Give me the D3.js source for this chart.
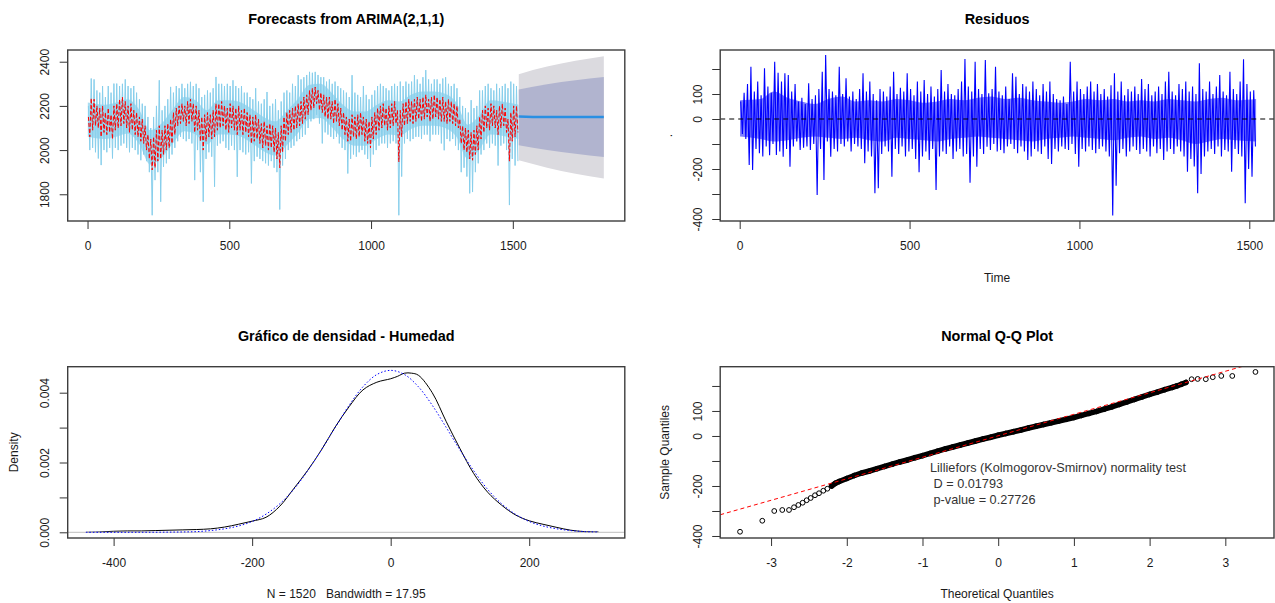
<!DOCTYPE html>
<html><head><meta charset="utf-8">
<script src="https://cdn.jsdelivr.net/npm/d3@7/dist/d3.min.js"></script>
<style>
body{margin:0;background:#fff}
svg text{font-family:"Liberation Sans",Arial,sans-serif}
</style>
</head><body>
<svg id="c" width="1275" height="603"></svg>
<script>
// ---------------- DATA ----------------
// Series binned in blocks of 10 time steps: high / low value seen in each block
const binStart = 1, binWidth = 10;
const actHi = [2200,2324,2320,2270,2260,2290,2240,2290,2260,2301,
 2301,2290,2300,2320,2290,2280,2290,2260,2230,2210,
 2200,2150,2100,2150,2200,2316,2180,2200,2230,2286,
 2260,2290,2280,2300,2280,2300,2309,2290,2300,2280,
 2240,2250,2270,2260,2280,2331,2300,2300,2290,2300,
 2290,2316,2290,2280,2290,2260,2260,2240,2230,2280,
 2220,2210,2230,2263,2200,2210,2230,2180,2220,2260,
 2270,2260,2300,2290,2339,2320,2330,2340,2354,2350,
 2354,2340,2330,2330,2310,2320,2300,2310,2290,2280,
 2270,2260,2240,2339,2260,2250,2240,2290,2250,2230,
 2250,2270,2290,2300,2290,2280,2270,2290,2300,2290,
 2310,2290,2310,2300,2310,2339,2320,2300,2330,2362,
 2320,2300,2320,2320,2300,2324,2330,2300,2290,2300,
 2280,2240,2200,2190,2170,2226,2190,2200,2270,2270,
 2290,2300,2280,2270,2300,2280,2290,2300,2280,2310,
 2300,2290];
const actLo = [2000,2010,1990,1962,1932,2000,1990,2010,1962,2010,
 2000,2020,2030,2010,1990,2010,2000,1980,1954,1980,
 1950,1900,1705,1864,1900,1766,1924,1940,1960,1980,
 2010,2040,2060,2050,2040,2050,2030,1864,2000,1900,
 1766,1960,1990,1970,1834,2020,2030,2040,2010,2000,
 2020,2000,1879,2000,1990,1980,1990,1849,1950,1970,
 1960,1950,1940,1930,1950,1920,1900,1731,1930,1960,
 2000,2010,2020,2040,2050,2060,2070,2100,2130,2140,
 2160,2120,2030,2080,2070,2060,2050,2060,2030,2010,
 2000,1894,1960,1980,1970,1990,2000,1980,1960,1924,
 1980,2000,2020,2030,2030,2010,2030,2040,2030,1705,
 1880,2030,2050,2040,2050,2060,2060,2050,2070,2070,
 2040,2070,2070,2070,2030,1999,2050,2040,2050,2020,
 2000,1900,1920,1880,1804,1810,1900,1940,1980,2000,
 2030,2010,2030,2020,1930,2020,2030,2000,1751,1960,
 1930,1950];
// dense core of the observed series, blocks of 40 time steps
const bodyWidth = 40;
const actBodyHi = [2215,2205,2215,2230,2185,2090,2120,2185,2240,2225,2180,2225,2225,2215,2185,2150,2130,2175,2230,2295,2300,2260,2205,2175,2175,2205,2225,2220,2250,2265,2265,2255,2215,2115,2155,2225,2220,2205];
const actBodyLo = [2060,2050,2060,2075,2030,1935,1965,2030,2085,2070,2025,2070,2070,2060,2030,1995,1975,2020,2075,2140,2145,2105,2050,2020,2020,2050,2070,2065,2095,2110,2110,2100,2060,1960,2000,2070,2065,2050];
const fitHi = [2150,2235,2230,2200,2190,2200,2170,2190,2160,2200,
 2210,2230,2240,2220,2200,2210,2180,2170,2150,2140,
 2110,2070,2050,2060,2090,2110,2090,2110,2120,2140,
 2170,2190,2200,2210,2200,2220,2230,2210,2200,2180,
 2150,2160,2170,2160,2180,2210,2210,2220,2200,2190,
 2210,2200,2190,2200,2180,2190,2170,2160,2150,2160,
 2140,2120,2130,2110,2120,2110,2100,2080,2110,2150,
 2170,2180,2190,2200,2210,2220,2240,2250,2270,2280,
 2285,2270,2260,2250,2240,2240,2220,2230,2210,2190,
 2170,2150,2140,2160,2150,2160,2170,2150,2140,2130,
 2150,2170,2190,2200,2210,2190,2200,2210,2220,2180,
 2180,2210,2220,2230,2220,2230,2240,2230,2240,2250,
 2230,2240,2250,2240,2230,2240,2220,2230,2220,2210,
 2200,2140,2110,2100,2090,2080,2090,2110,2150,2180,
 2200,2190,2210,2200,2180,2200,2210,2190,2140,2170,
 2200,2200];
const fitLo = [2060,2090,2110,2100,2060,2080,2070,2080,2050,2090,
 2100,2110,2120,2100,2080,2090,2070,2060,2040,2030,
 2000,1960,1910,1920,1950,1960,1980,2000,2010,2030,
 2070,2110,2120,2130,2110,2120,2130,2080,2090,2040,
 2000,2040,2060,2050,2060,2090,2100,2110,2090,2080,
 2100,2090,2070,2090,2070,2080,2060,2030,2040,2050,
 2030,2010,2020,2000,2010,1990,1960,1920,1990,2040,
 2070,2080,2090,2100,2110,2120,2140,2160,2180,2190,
 2210,2180,2170,2150,2140,2140,2120,2130,2110,2090,
 2070,2040,2040,2060,2050,2060,2070,2040,2030,2010,
 2050,2070,2090,2100,2110,2090,2100,2110,2120,1947,
 2060,2110,2120,2130,2120,2130,2140,2130,2140,2150,
 2130,2140,2150,2140,2130,2130,2120,2130,2120,2110,
 2100,2030,2000,1990,1960,1954,1980,2000,2050,2080,
 2100,2090,2110,2100,2070,2100,2110,2080,1950,2040,
 2060,2080];
const resHi = [70,105,140,209,110,150,95,203,130,105,
 229,185,150,183,176,110,140,70,85,60,
 143,80,95,120,189,256,120,110,95,209,
 100,163,90,110,80,120,183,110,150,100,
 75,120,110,90,130,189,100,125,110,183,
 120,95,150,110,156,100,130,90,120,196,
 110,140,100,95,120,150,240,130,110,229,
 120,100,236,103,120,209,110,95,130,80,
 183,169,100,140,130,110,150,120,95,140,
 110,150,100,80,75,90,60,229,110,150,
 120,100,130,150,110,140,100,120,90,135,
 183,110,150,95,120,110,130,100,160,120,
 140,95,110,130,100,150,189,110,95,140,
 120,150,110,130,100,223,120,110,150,100,
 130,176,110,95,189,120,100,150,239,140,
 110,115];
const resLo = [-60,-80,-184,-204,-120,-137,-150,-110,-145,-100,
 -144,-130,-151,-120,-191,-110,-90,-124,-115,-110,
 -124,-100,-304,-120,-244,-90,-151,-120,-130,-100,
 -110,-90,-130,-100,-110,-120,-177,-130,-150,-297,
 -277,-140,-110,-130,-231,-120,-140,-110,-150,-130,
 -120,-160,-213,-150,-130,-164,-120,-284,-150,-130,
 -140,-110,-160,-130,-120,-150,-140,-255,-150,-191,
 -120,-140,-111,-124,-100,-130,-124,-137,-110,-100,
 -120,-137,-110,-130,-164,-150,-120,-130,-140,-110,
 -160,-180,-120,-130,-110,-120,-124,-100,-140,-191,
 -120,-130,-110,-124,-137,-120,-110,-130,-150,-386,
 -267,-137,-120,-150,-130,-110,-124,-140,-120,-130,
 -150,-110,-137,-120,-164,-130,-120,-140,-110,-130,
 -150,-211,-160,-190,-297,-220,-150,-130,-120,-140,
 -110,-150,-124,-130,-211,-120,-140,-150,-337,-200,
 -231,-110];
// dense core of the residuals, blocks of 40 time steps
const resBodyHi = [75,80,110,85,70,60,80,90,70,75,70,80,75,65,70,80,75,85,90,80,85,75,70,65,70,80,75,80,70,75,70,80,75,70,80,85,75,80];
const resBodyLo = [-70,-80,-90,-85,-75,-70,-75,-80,-75,-85,-90,-75,-80,-85,-90,-80,-75,-70,-75,-80,-85,-90,-80,-75,-70,-75,-80,-85,-75,-70,-80,-75,-85,-100,-90,-80,-85,-90];
// Forecast (time, mean, 80% and 95% limits)
const fcTime = [1521,1571,1621,1671,1721,1771,1821];
const fcMean = [2152,2150,2150,2150,2150,2150,2150];
const fcLo80 = [2022,2011,2000,1991,1983,1976,1969];
const fcHi80 = [2274,2287,2298,2308,2316,2324,2331];
const fcLo95 = [1954,1937,1920,1905,1893,1881,1871];
const fcHi95 = [2343,2362,2378,2392,2404,2415,2425];
// Density of residuals (black) and fitted normal (blue dotted)
const densX = [-440,-420,-400,-380,-360,-340,-320,-300,-280,-260,-240,-220,-200,-180,-160,-140,-120,-100,-80,-60,-40,-20,0,10,20,30,40,60,80,100,120,140,160,180,200,220,240,260,280,300];
const densY = [0,0.00001,0.00003,0.00004,0.00004,0.00005,0.00006,0.00007,0.00008,0.00010,0.00015,0.00023,0.00032,0.00043,0.00075,0.00125,0.00177,0.00236,0.00302,0.00360,0.00408,0.00430,0.00440,0.00447,0.00456,0.00456,0.00450,0.00400,0.00318,0.00240,0.00168,0.00115,0.00078,0.00050,0.00033,0.00023,0.00014,0.00006,0.00002,0.00001];
const normX = [-440,-420,-400,-380,-360,-340,-320,-300,-280,-260,-240,-220,-200,-180,-160,-140,-120,-100,-80,-60,-40,-20,0,20,40,60,80,100,120,140,160,180,200,220,240,260,280,300];
const normY = [0,0,0,0,0.000001,0.000002,0.000005,0.00001,0.00002,0.00005,0.00010,0.00018,0.00031,0.00052,0.00082,0.00123,0.00176,0.00236,0.00301,0.00364,0.00417,0.00452,0.00464,0.00452,0.00417,0.00364,0.00301,0.00236,0.00176,0.00123,0.00082,0.00052,0.00031,0.00018,0.00010,0.00005,0.00002,0.00001];
// Normal Q-Q
const qqTheo = [-3.41,-3.116,-2.958,-2.852,-2.763,-2.697,-2.64,-2.583,-2.53,-2.477,-2.42,-2.367,-2.31,-2.257,-2.2,-2.15,-2.1,-2.0,-1.9,-1.8,-1.7,-1.6,-1.5,-1.4,-1.3,-1.2,-1.1,-1.0,-0.9,-0.8,-0.7,-0.6,-0.5,-0.4,-0.3,-0.2,-0.1,0,0.1,0.2,0.3,0.4,0.5,0.6,0.7,0.8,0.9,1.0,1.1,1.2,1.3,1.4,1.5,1.6,1.7,1.8,1.9,2.0,2.1,2.2,2.3,2.36,2.42,2.48,2.555,2.635,2.742,2.834,2.947,3.092,3.398];
const qqSample = [-383,-339,-300,-296,-296,-285,-276,-267,-257,-248,-237,-229,-219,-211,-200,-189,-182,-170,-158,-148,-140,-131,-122,-113,-104,-96,-87,-79,-70,-61,-52,-44,-36,-28,-20,-12,-5,3,10,17,24,32,39,46,53,60,67,74,82,90,98,107,116,126,136,146,156,166,175,185,194,200,207,214,227,228,227,235,240,240,256];
const qqLineTheo = [-3.672,3.643];
const qqLineSample = [-315,314];
const qqNote = ["Lilliefors (Kolmogorov-Smirnov) normality test"," D = 0.01793"," p-value = 0.27726"];
// Tick values and labels
const tsXTicks = [0,500,1000,1500];
const fcYTicks = [1800,2000,2200,2400];
const resYTicks = [-400,-300,-200,-100,0,100,200];
const resYLabels = [-400,-200,0,100];
const densXTicks = [-400,-200,0,200];
const densYTicks = [0,0.001,0.002,0.003,0.004];
const densYLabels = [0,0.002,0.004];
const qqXTicks = [-3,-2,-1,0,1,2,3];
const titles = ["Forecasts from ARIMA(2,1,1)","Residuos","Gr\u00e1fico de densidad - Humedad","Normal Q-Q Plot"];

// ---------------- DRAWING ----------------
const svg = d3.select("#c");
const FONT = '"Liberation Sans", Arial, sans-serif';
let clipId = 0;

function frame(xs, ys, xTicks, yTicks, yLabelOK, yFmt) {
  const [x0, x1] = xs.range(), [yb, yt] = ys.range();
  const ax = svg.append("g").attr("transform", `translate(0,${yb})`)
    .call(d3.axisBottom(xs).tickValues(xTicks).tickFormat(d => String(d)).tickSize(8).tickPadding(12.5));
  ax.select(".domain").remove();
  ax.attr("font-size", 12).attr("font-family", FONT);
  ax.selectAll("line").attr("stroke", "#333");
  ax.selectAll("text").attr("fill", "#1a1a1a");
  const ay = svg.append("g").attr("transform", `translate(${x0},0)`)
    .call(d3.axisLeft(ys).tickValues(yTicks).tickSize(8)
      .tickFormat(d => yLabelOK(d) ? yFmt(d) : ""));
  ay.select(".domain").remove();
  ay.attr("font-size", 12).attr("font-family", FONT);
  ay.selectAll("line").attr("stroke", "#333");
  ay.selectAll("text").attr("fill", "#1a1a1a").attr("transform", "rotate(-90)")
    .attr("x", 0).attr("y", -18.5).attr("dy", 0).attr("text-anchor", "middle");
  const id = "clip" + (clipId++);
  svg.append("clipPath").attr("id", id).append("rect")
    .attr("x", x0).attr("y", yt).attr("width", x1 - x0).attr("height", yb - yt);
  return id;
}
function box(xs, ys) {
  const [x0, x1] = xs.range(), [yb, yt] = ys.range();
  svg.append("rect").attr("x", x0).attr("y", yt).attr("width", x1 - x0).attr("height", yb - yt)
    .attr("fill", "none").attr("stroke", "#3d3d3d").attr("stroke-width", 1.4);
}
function title(txt, xs, y) {
  const [x0, x1] = xs.range();
  svg.append("text").attr("x", (x0 + x1) / 2).attr("y", y).attr("text-anchor", "middle")
    .attr("font-weight", "bold").attr("font-size", 14.4).attr("fill", "#000").text(txt);
}
function xlab(txt, xs, y) {
  const [x0, x1] = xs.range();
  svg.append("text").attr("x", (x0 + x1) / 2).attr("y", y).attr("text-anchor", "middle")
    .attr("font-size", 12).attr("fill", "#1a1a1a").style("white-space", "pre").text(txt);
}
function ylab(txt, x, ys) {
  const [yb, yt] = ys.range();
  svg.append("text").attr("transform", `translate(${x},${(yb + yt) / 2}) rotate(-90)`)
    .attr("text-anchor", "middle").attr("font-size", 12).attr("fill", "#1a1a1a").text(txt);
}
function zigzag(hi, lo) {
  const pts = [];
  hi.forEach((h, i) => {
    pts.push([binStart + binWidth * i + 2, h]);
    pts.push([binStart + binWidth * i + 7, lo[i]]);
  });
  return pts;
}
function bodyArea(xs, ys, hi, lo) {
  const n = hi.length;
  const ts = hi.map((_, i) => Math.min(binStart + bodyWidth * i + bodyWidth / 2, 1520));
  ts[0] = binStart; ts[n - 1] = 1520;
  return d3.area().curve(d3.curveMonotoneX).x((d, i) => xs(ts[i])).y0((d, i) => ys(lo[i])).y1((d, i) => ys(hi[i]))(hi);
}

// ---- Panel 1: forecasts
const x1s = d3.scaleLinear([-70, 1895], [67.7, 624.8]);
const y1s = d3.scaleLinear([1679, 2453], [221, 50]);
const c1 = frame(x1s, y1s, tsXTicks, fcYTicks, () => true, d => String(d));
const g1 = svg.append("g").attr("clip-path", `url(#${c1})`);
const line1 = d3.line().x(d => x1s(d[0])).y(d => y1s(d[1]));
g1.append("path").attr("d", bodyArea(x1s, y1s, actBodyHi, actBodyLo)).attr("fill", "#87ceeb").attr("opacity", 0.7);
g1.append("path").attr("d", line1(zigzag(actHi, actLo))).attr("fill", "none")
  .attr("stroke", "#87ceeb").attr("stroke-width", 1);
g1.append("path").datum(fcTime).attr("fill", "#dbdadf")
  .attr("d", d3.area().x(d => x1s(d)).y0((d, i) => y1s(fcLo95[i])).y1((d, i) => y1s(fcHi95[i])));
g1.append("path").datum(fcTime).attr("fill", "#b1b4cf")
  .attr("d", d3.area().x(d => x1s(d)).y0((d, i) => y1s(fcLo80[i])).y1((d, i) => y1s(fcHi80[i])));
g1.append("path").datum(fcTime).attr("fill", "none").attr("stroke", "#2a8fe3").attr("stroke-width", 2.5)
  .attr("d", d3.line().x(d => x1s(d)).y((d, i) => y1s(fcMean[i])));
g1.append("path").attr("d", line1(zigzag(fitHi, fitLo))).attr("fill", "none")
  .attr("stroke", "#ff0000").attr("stroke-width", 1).attr("stroke-dasharray", "4,2");
box(x1s, y1s);
title(titles[0], x1s, 24);

// ---- Panel 2: residuals
const x2s = d3.scaleLinear([-57.4, 1572.7], [720.2, 1274]);
const y2s = d3.scaleLinear([-408, 276], [221, 50]);
const c2 = frame(x2s, y2s, tsXTicks, resYTicks, d => resYLabels.includes(d), d => String(d));
const g2 = svg.append("g").attr("clip-path", `url(#${c2})`);
g2.append("path").attr("d", bodyArea(x2s, y2s, resBodyHi, resBodyLo)).attr("fill", "#0000ff").attr("opacity", 0.5);
g2.append("path").attr("d", d3.line().x(d => x2s(d[0])).y(d => y2s(d[1]))(zigzag(resHi, resLo)))
  .attr("fill", "none").attr("stroke", "#0000ff").attr("stroke-width", 1.1);
g2.append("line").attr("x1", x2s.range()[0]).attr("x2", x2s.range()[1])
  .attr("y1", y2s(0)).attr("y2", y2s(0)).attr("stroke", "#000").attr("stroke-width", 1.2)
  .attr("stroke-dasharray", "5,4");
box(x2s, y2s);
title(titles[1], x2s, 24);
xlab("Time", x2s, 282);
ylab(".", 672, y2s);

// ---- Panel 3: density
const x3s = d3.scaleLinear([-466.3, 338], [67.7, 624.8]);
const y3s = d3.scaleLinear([-0.000163, 0.004745], [538, 366.7]);
const c3 = frame(x3s, y3s, densXTicks, densYTicks, d => densYLabels.some(v => Math.abs(v - d) < 1e-9), d3.format(".3f"));
const g3 = svg.append("g").attr("clip-path", `url(#${c3})`);
g3.append("path").datum(densX).attr("fill", "none").attr("stroke", "#000").attr("stroke-width", 1)
  .attr("d", d3.line().curve(d3.curveCatmullRom).x(d => x3s(d)).y((d, i) => y3s(densY[i])));
g3.append("line").attr("x1", x3s.range()[0]).attr("x2", x3s.range()[1])
  .attr("y1", y3s(0)).attr("y2", y3s(0)).attr("stroke", "#bebebe").attr("stroke-width", 1);
g3.append("path").datum(normX).attr("fill", "none").attr("stroke", "#0000ff").attr("stroke-width", 1)
  .attr("stroke-dasharray", "1.5,2")
  .attr("d", d3.line().curve(d3.curveCatmullRom).x(d => x3s(d)).y((d, i) => y3s(normY[i])));
box(x3s, y3s);
title(titles[2], x3s, 341);
xlab("N = 1520   Bandwidth = 17.95", x3s, 598);
ylab("Density", 18, y3s);

// ---- Panel 4: Q-Q
const x4s = d3.scaleLinear([-3.672, 3.643], [720.2, 1274]);
const y4s = d3.scaleLinear([-408, 277], [538, 366.7]);
const c4 = frame(x4s, y4s, qqXTicks, resYTicks, d => resYLabels.includes(d), d => String(d));
const g4 = svg.append("g").attr("clip-path", `url(#${c4})`);
const body = qqTheo.map((z, i) => [z, qqSample[i]]).filter(d => d[0] >= -2.2 && d[0] <= 2.48);
g4.append("path").attr("d", d3.line().x(d => x4s(d[0])).y(d => y4s(d[1]))(body))
  .attr("fill", "none").attr("stroke", "#000").attr("stroke-width", 5.5).attr("stroke-linecap", "round");
g4.selectAll("circle.q").data(qqTheo).join("circle")
  .attr("cx", d => x4s(d)).attr("cy", (d, i) => y4s(qqSample[i])).attr("r", 2.4)
  .attr("fill", "none").attr("stroke", "#000").attr("stroke-width", 1);
g4.append("line").attr("x1", x4s(qqLineTheo[0])).attr("x2", x4s(qqLineTheo[1]))
  .attr("y1", y4s(qqLineSample[0])).attr("y2", y4s(qqLineSample[1]))
  .attr("stroke", "#ff0000").attr("stroke-width", 1).attr("stroke-dasharray", "4,3");
box(x4s, y4s);
title(titles[3], x4s, 341);
xlab("Theoretical Quantiles", x4s, 598);
ylab("Sample Quantiles", 669, y4s);
svg.append("g").selectAll("text").data(qqNote).join("text")
  .attr("x", 930).attr("y", (d, i) => 472 + i * 16).attr("font-size", 12.7).attr("fill", "#333")
  .style("white-space", "pre").text(d => d);
</script>
</body></html>
